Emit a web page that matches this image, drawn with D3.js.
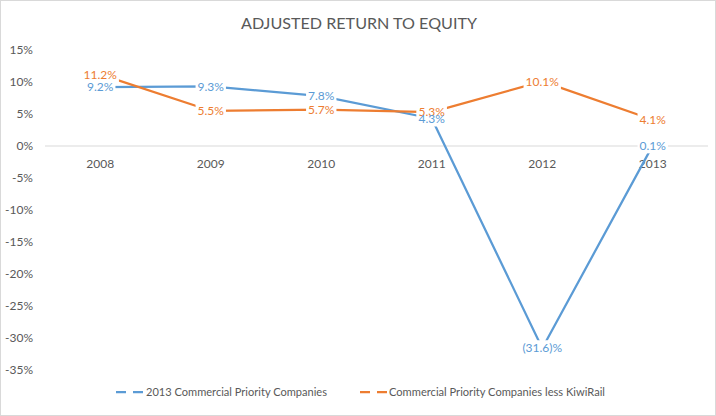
<!DOCTYPE html>
<html><head><meta charset="utf-8">
<script src="https://cdn.jsdelivr.net/npm/d3@7"></script>
<style>body{margin:0;background:#fff}svg{display:block}</style>
</head><body><svg id="c" width="716" height="416"></svg>
<script>
const years = ["2008","2009","2010","2011","2012","2013"];
const blueVals = [9.2, 9.3, 7.8, 4.3, -31.6, 0.1];
const orangeVals = [11.2, 5.5, 5.7, 5.3, 10.1, 4.1];
const blueLabels = ["9.2%","9.3%","7.8%","4.3%","(31.6)%","0.1%"];
const orangeLabels = ["11.2%","5.5%","5.7%","5.3%","10.1%","4.1%"];
const yTicks = [15,10,5,0,-5,-10,-15,-20,-25,-30,-35];
const seriesNames = ["2013 Commercial Priority Companies","Commercial Priority Companies less KiwiRail"];
const colors = ["#5B9BD5","#ED7D31"];

const FONT = "Lato, 'Liberation Sans', sans-serif";
const svg = d3.select("#c");
svg.append("rect").attr("x",0.5).attr("y",0.5).attr("width",715).attr("height",415)
  .attr("fill","#fff").attr("stroke","#d9d9d9");

const x = d3.scaleBand().domain(years).range([45,708]);
const y = d3.scaleLinear().domain([-35,15]).range([370,50]);
const cx = d => x(d) + x.bandwidth()/2;

svg.append("text").attr("x",241).attr("y",29)
  .attr("font-family",FONT).attr("font-size",16).attr("fill","#595959")
  .attr("textLength",236).attr("lengthAdjust","spacingAndGlyphs").text("ADJUSTED RETURN TO EQUITY");

// y axis labels
const yAxis = d3.axisLeft(y).tickValues(yTicks).tickSize(0).tickPadding(0).tickFormat(d=>d+"%");
const ga = svg.append("g").attr("transform","translate(33,0)").call(yAxis);
ga.select(".domain").remove();
ga.selectAll("text").attr("font-family",FONT).attr("font-size",12).attr("fill","#595959");

// zero line
svg.append("line").attr("x1",45).attr("x2",708).attr("y1",y(0)).attr("y2",y(0))
  .attr("stroke","#d9d9d9").attr("stroke-width",1);

// x labels
const xAxis = d3.axisBottom(x).tickSize(0).tickPadding(0);
const gx = svg.append("g").attr("transform",`translate(0,${y(0)+18})`).call(xAxis);
gx.select(".domain").remove();
gx.selectAll("text").attr("font-family",FONT).attr("font-size",12).attr("fill","#595959").attr("dy","0.32em");

const line = d3.line().x((d,i)=>cx(years[i])).y(d=>y(d));
[blueVals, orangeVals].forEach((vals,k)=>{
  svg.append("path").datum(vals).attr("d",line).attr("fill","none")
    .attr("stroke",colors[k]).attr("stroke-width",2.25).attr("stroke-linejoin","round");
});

const boxG = svg.append("g"), txtG = svg.append("g");
function labels(vals, labs, col){
  vals.forEach((v,i)=>{
    const t = txtG.append("text").attr("x",cx(years[i])).attr("y",y(v)).attr("dy","0.35em")
      .attr("text-anchor","middle").attr("font-family",FONT).attr("font-size",12)
      .attr("fill",col).text(labs[i]);
    const w = t.node().getComputedTextLength();
    boxG.append("rect").attr("x",cx(years[i])-w/2-2).attr("y",y(v)-8)
      .attr("width",w+4).attr("height",16).attr("fill","#fff");
  });
}
labels(orangeVals, orangeLabels, colors[1]);
labels(blueVals, blueLabels, colors[0]);

// legend
const leg = [[116,146,181],[360,389,216]];
seriesNames.forEach((n,k)=>{
  const [lx,tx,tw] = leg[k];
  svg.append("line").attr("x1",lx).attr("x2",lx+27).attr("y1",392).attr("y2",392)
    .attr("stroke",colors[k]).attr("stroke-width",2.25).attr("stroke-dasharray","10,7");
  svg.append("text").attr("x",tx).attr("y",392).attr("dy","0.35em").attr("font-family",FONT)
    .attr("font-size",12).attr("fill","#595959")
    .attr("textLength",tw).attr("lengthAdjust","spacingAndGlyphs").text(n);
});
</script></body></html>
